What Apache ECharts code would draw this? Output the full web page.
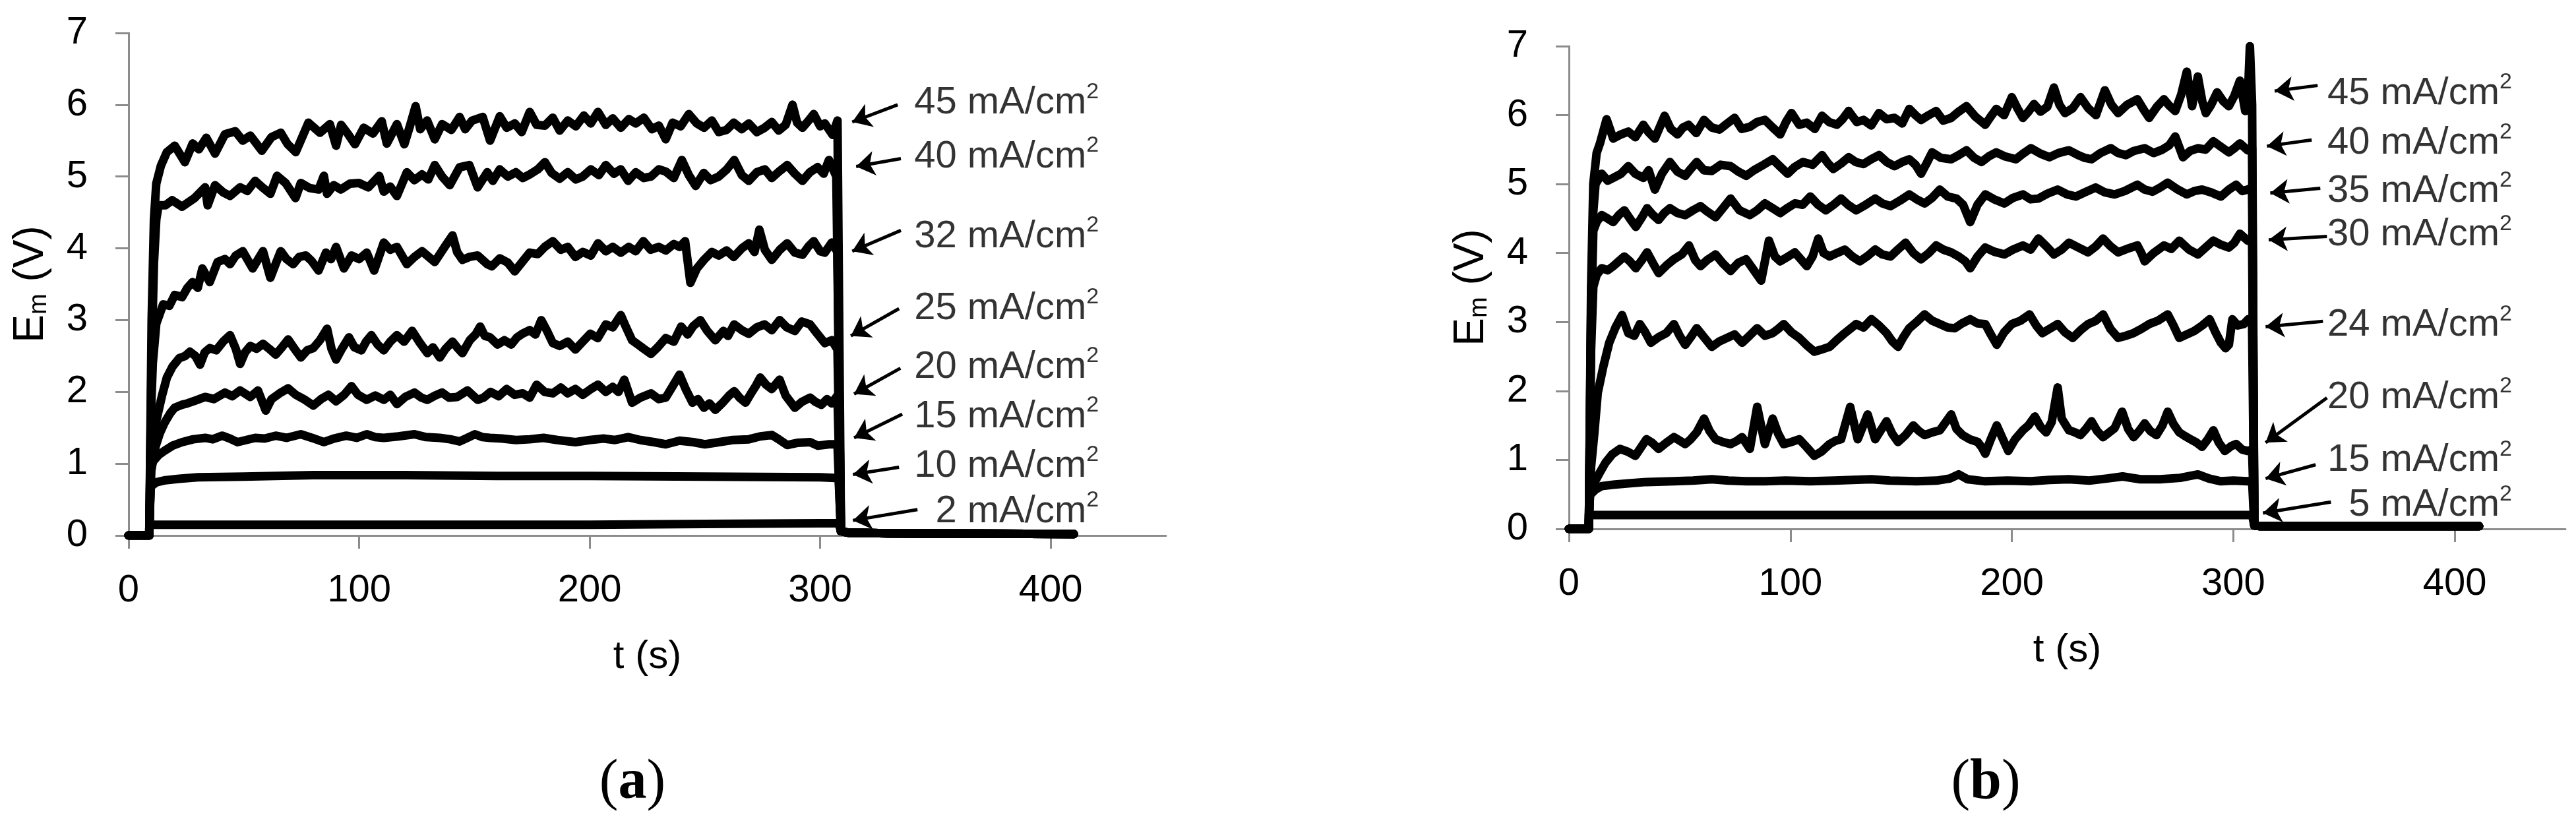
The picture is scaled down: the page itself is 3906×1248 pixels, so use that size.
<!DOCTYPE html>
<html>
<head>
<meta charset="UTF-8">
<title>Em vs t</title>
<script src="https://cdn.jsdelivr.net/npm/echarts@6/dist/echarts.min.js"></script>
<style>
html, body { margin: 0; padding: 0; background: #fff; }
#chart { width: 3906px; height: 1248px; }
</style>
</head>
<body>
<div id="chart"></div>
<script>
// all values as [t (s), Em (V)]
// panel (a)
var offA = [[0, 0], [9, 0]];
var tailA = [[309, 0.06], [312, 0.04], [330, 0.03], [410, 0.02]];
var a45 = [[9,0.1],[10,3.0],[11,4.4],[12,4.9],[14,5.15],[16.6,5.34],[20,5.43],[24.4,5.2],[27.8,5.46],[30.5,5.38],[33.7,5.54],[37.5,5.32],[41.8,5.59],[46.3,5.63],[49.5,5.5],[52.8,5.57],[57.8,5.36],[62,5.55],[66,5.61],[69,5.45],[72.5,5.34],[78,5.75],[83,5.61],[87.3,5.73],[90,5.43],[92.2,5.72],[95,5.6],[98.2,5.45],[102,5.68],[106,5.6],[109.8,5.77],[112,5.46],[116.4,5.73],[119.6,5.45],[122,5.7],[124.5,5.98],[126.5,5.66],[129.5,5.78],[132.8,5.52],[136,5.73],[140,5.65],[143.6,5.83],[146,5.66],[149,5.78],[153.6,5.83],[156.8,5.5],[161,5.84],[164,5.68],[167.5,5.74],[170.5,5.62],[174,5.9],[177,5.72],[180.6,5.71],[184,5.82],[187,5.64],[190.5,5.78],[194,5.7],[197.5,5.85],[200.5,5.74],[203.6,5.9],[207,5.72],[210,5.81],[213.5,5.68],[217,5.8],[220,5.74],[223.5,5.82],[227,5.66],[230,5.71],[233,5.52],[236,5.75],[239.5,5.7],[243,5.87],[246.5,5.74],[249.6,5.68],[253,5.78],[256,5.62],[259.4,5.65],[262.5,5.75],[266,5.66],[269,5.74],[272.5,5.62],[275.9,5.68],[279,5.76],[282,5.64],[285,5.72],[288,6.0],[290,5.75],[292.3,5.68],[295,5.78],[297.2,5.87],[300,5.7],[302,5.74],[305.4,5.58],[307.5,5.78]];
var a40 = [[9,0.1],[10,2.5],[11,3.8],[12,4.4],[13,4.6],[16,4.6],[18.9,4.67],[23.2,4.58],[28.6,4.7],[33.2,4.85],[34.3,4.6],[37.5,4.88],[41,4.78],[44,4.73],[48.4,4.85],[51.5,4.8],[54.9,4.94],[58,4.85],[61.5,4.76],[64.4,5.01],[68.1,4.91],[72.4,4.7],[74.7,4.91],[78.5,4.84],[82.4,4.82],[84.7,5.01],[86.1,4.76],[89,4.88],[92.1,4.82],[96,4.9],[99.9,4.91],[104,4.85],[108.7,5.01],[110.7,4.79],[113.5,4.86],[116.4,4.73],[120.7,5.06],[124,4.95],[127.3,5.03],[130,4.96],[132.8,5.16],[136,5.0],[139.3,4.88],[143.6,5.13],[147.8,5.16],[151.4,4.85],[155.6,5.06],[158,4.94],[161,5.1],[164.5,5.0],[168,5.06],[171,4.98],[174,5.03],[177.5,5.1],[180.6,5.2],[183.5,5.05],[187,4.97],[190.5,5.06],[194,4.96],[197,5.0],[200.5,5.1],[204,5.02],[207,5.16],[210.5,5.04],[213.5,5.1],[216.7,4.94],[220,5.06],[223.5,4.98],[226.6,5.0],[230,5.1],[233,5.07],[236.5,4.98],[240,5.23],[243,5.02],[246,4.87],[249.5,5.05],[252.5,4.95],[256,5.0],[259.5,5.1],[262.7,5.23],[266,5.02],[269,4.94],[272.5,5.06],[276,5.1],[279,4.98],[282.5,5.08],[285.7,5.16],[289,5.04],[292.3,4.94],[295.5,5.06],[298.9,5.13],[301.5,5.04],[303.8,5.23],[307,5.0]];
var a32 = [[9,0.1],[9.8,1.8],[10.5,2.4],[12,2.95],[15,3.22],[17.7,3.2],[20,3.35],[23.2,3.32],[25.5,3.45],[27.7,3.53],[30,3.45],[32,3.72],[35.2,3.53],[38.6,3.81],[41.8,3.85],[44,3.78],[46.5,3.9],[49.5,3.96],[53.8,3.72],[58.3,3.96],[61.5,3.59],[64,3.8],[66,3.96],[68.5,3.85],[71.4,3.78],[74,3.88],[76.9,3.9],[79.5,3.82],[82.4,3.69],[85.6,3.94],[87.8,3.85],[90,4.02],[93.4,3.72],[96.7,3.9],[100,3.85],[103.3,3.94],[106.5,3.69],[110.7,4.08],[113.5,3.98],[116.4,4.02],[120.7,3.78],[124,3.88],[127.3,3.96],[132.8,3.81],[137.1,4.02],[140.5,4.18],[142.5,3.95],[144.8,3.84],[147.8,3.88],[151.4,3.9],[155.6,3.78],[157.6,3.75],[161,3.86],[164.5,3.8],[167.5,3.68],[171,3.82],[174,3.94],[177.5,3.92],[180.5,4.02],[184,4.1],[187.5,3.98],[190.5,4.02],[193.8,3.88],[197,3.95],[200.5,3.9],[203.6,4.07],[207,3.96],[210,4.02],[213.5,3.94],[217,4.02],[220,3.96],[223.3,4.1],[226.5,3.98],[230,4.02],[233,3.97],[236.5,4.06],[239,4.02],[241.4,4.1],[243.7,3.52],[246.5,3.72],[249.6,3.84],[253,3.95],[256,3.9],[259.4,3.97],[262.5,3.88],[266,4.0],[269,4.07],[271.5,3.95],[273.6,4.26],[276,3.98],[279,3.84],[282.5,3.98],[285.7,4.07],[289,3.94],[292.3,3.91],[295,4.03],[297.2,4.1],[300,3.96],[302,3.94],[305,4.08],[307.5,3.95]];
var a25 = [[9,0.1],[9.8,1.0],[10.8,1.4],[12.3,1.64],[14.5,1.95],[16.6,2.2],[19,2.35],[22,2.47],[24.5,2.5],[26.6,2.56],[29,2.5],[31,2.38],[33,2.55],[35.2,2.61],[38,2.58],[41,2.7],[44,2.79],[46.5,2.6],[48.4,2.39],[50.5,2.55],[52.8,2.64],[55.5,2.6],[58.3,2.67],[61,2.6],[63.8,2.52],[66.5,2.62],[69.2,2.73],[72,2.6],[74.7,2.48],[77.5,2.58],[80.1,2.61],[83,2.72],[86.1,2.88],[88,2.6],[90,2.45],[92.5,2.6],[95.6,2.76],[98,2.62],[101,2.58],[103,2.7],[105.3,2.79],[108,2.66],[110.7,2.58],[113.5,2.7],[116.4,2.79],[119.5,2.7],[123,2.85],[126,2.7],[129.6,2.54],[132,2.62],[135,2.48],[137.5,2.6],[140.5,2.7],[142.5,2.62],[144.8,2.54],[148,2.72],[150.5,2.8],[152.5,2.91],[154.5,2.78],[156.8,2.76],[160,2.66],[163,2.72],[166,2.66],[168.5,2.76],[170.8,2.81],[174,2.86],[176.5,2.8],[179,3.0],[181.5,2.85],[184,2.68],[187,2.64],[190.5,2.7],[193.8,2.59],[197,2.7],[200.3,2.81],[203.5,2.75],[207,2.94],[210,2.9],[213.5,3.07],[215.8,2.9],[218.4,2.72],[221,2.66],[223.5,2.6],[226.6,2.53],[229.5,2.62],[233,2.75],[236.5,2.7],[239.7,2.91],[242.5,2.8],[245,2.92],[248,3.0],[251,2.85],[254.5,2.72],[258,2.85],[260,2.78],[262.7,2.94],[266,2.86],[269,2.81],[272.5,2.9],[275.9,2.94],[279,2.86],[282.4,3.0],[285.5,2.9],[289,2.85],[292,2.98],[295.6,2.94],[298.5,2.82],[302,2.68],[305,2.72],[307.5,2.59]];
var a20 = [[9,0.1],[9.8,0.9],[11.7,1.24],[13.5,1.42],[15.6,1.57],[18,1.7],[20,1.78],[23,1.82],[25.5,1.84],[29,1.88],[33.2,1.93],[37,1.9],[41.8,1.99],[45,1.94],[48.4,2.02],[52.8,1.93],[56.1,2.02],[59.5,1.74],[62,1.9],[65.5,1.98],[69.2,2.05],[72.5,1.96],[76,1.9],[80.1,1.81],[83.5,1.9],[86.7,1.96],[90,1.87],[93.5,1.96],[96.7,2.08],[99.5,1.96],[103.3,1.89],[107,1.95],[110.7,1.89],[113.5,1.96],[116.4,1.83],[120,1.93],[124,1.99],[127,1.92],[129.6,1.89],[133,1.95],[136,1.99],[139,1.92],[142.5,1.93],[147,2.02],[151.4,1.89],[154,1.92],[157,2.0],[160.5,1.94],[164,2.04],[167.5,1.96],[171,1.98],[174,1.92],[177,2.1],[180.5,2.0],[184,1.98],[187.5,2.06],[190.5,1.98],[193.8,2.04],[197,1.96],[200.5,2.04],[203.6,2.1],[207,2.0],[210,2.07],[212.5,2.0],[215,2.17],[218.4,1.85],[222,1.92],[226.6,1.98],[230,1.9],[233,1.92],[236,2.08],[239,2.24],[241.5,2.05],[244.6,1.85],[247,1.9],[249.6,1.78],[252,1.84],[254.5,1.75],[258,1.86],[260.5,1.95],[262.7,2.01],[265,1.92],[267.6,1.85],[270,1.98],[272,2.08],[274,2.2],[276.5,2.1],[279,2.04],[282.4,2.17],[285,1.95],[289,1.78],[292,1.86],[295.6,1.92],[298,1.86],[300.5,1.82],[303,1.9],[305,1.84],[307.5,1.95]];
var a15 = [[9,0.1],[9.6,0.95],[10.6,1.03],[13,1.12],[15.6,1.18],[19,1.25],[23.2,1.3],[28,1.34],[33.2,1.36],[36.5,1.34],[40.6,1.39],[44,1.35],[47.2,1.3],[51,1.33],[54.9,1.36],[59,1.35],[63.8,1.39],[68.5,1.36],[74.7,1.41],[79.5,1.36],[84.7,1.3],[89,1.35],[94.4,1.39],[99,1.36],[103.3,1.41],[107,1.37],[110.7,1.36],[117,1.38],[124,1.41],[129,1.37],[135,1.36],[139.5,1.34],[143.6,1.31],[147,1.36],[150.2,1.41],[153.5,1.37],[156.8,1.36],[162,1.35],[168,1.33],[174,1.34],[180,1.36],[186,1.33],[193.8,1.3],[200,1.33],[206,1.35],[211,1.33],[216.7,1.37],[222,1.33],[228,1.3],[233,1.27],[239,1.32],[245,1.3],[250,1.27],[256,1.3],[262,1.33],[269,1.34],[274,1.38],[279,1.4],[282,1.34],[285.7,1.26],[290,1.29],[295.6,1.3],[299,1.25],[303.8,1.27],[307.5,1.27]];
var a10 = [[9,0.1],[9.5,0.68],[12,0.74],[16,0.77],[22,0.79],[30,0.81],[50,0.82],[80,0.84],[120,0.84],[160,0.83],[200,0.83],[250,0.82],[300,0.81],[308,0.8]];
var a2 = [[9,0.15],[100,0.15],[200,0.15],[250,0.16],[300,0.17],[308,0.17]];
var currentsA = ['45', '40', '32', '25', '20', '15', '10', '2'];

// panel (b)
var offB = [[0, 0], [9, 0]];
var tailB = [[309.5, 0.05], [312, 0.04], [411, 0.04]];
var b45 = [[9,0.1],[10,3.5],[11,5.0],[12.5,5.45],[14,5.59],[17,5.94],[20,5.66],[23.5,5.72],[26.8,5.76],[30,5.68],[33.6,5.86],[36,5.75],[38.8,5.66],[43.2,5.99],[46,5.8],[49,5.72],[51.5,5.82],[54,5.86],[57.5,5.74],[61,5.93],[64.5,5.82],[68,5.79],[71.5,5.88],[74.8,5.96],[78,5.8],[81.7,5.83],[85,5.9],[88.5,5.93],[92,5.82],[95.4,5.72],[98,5.9],[100.5,6.03],[104,5.86],[107.4,5.89],[111,5.8],[114.3,5.99],[117.5,5.9],[121,5.86],[123.5,5.94],[126.3,6.06],[130,5.9],[133,5.93],[136.5,5.85],[140,6.03],[143.5,5.94],[147,5.96],[150.5,5.88],[153.7,6.09],[156.5,6.0],[159,5.93],[162.5,6.0],[165.8,6.06],[169,5.92],[172.6,5.96],[176,6.05],[179.5,6.13],[183.5,5.98],[188,5.86],[190.5,5.98],[193,6.09],[196.5,6.0],[200,6.26],[202.5,6.1],[205,5.96],[207.5,6.05],[210,6.16],[213,6.05],[216,6.12],[219,6.4],[221.5,6.15],[224,6.03],[227.5,6.1],[231,6.26],[234.5,6.1],[238,6.0],[242,6.36],[245,6.15],[248,6.03],[252,6.15],[256.7,6.23],[259.5,6.08],[262,5.96],[265.5,6.12],[268.7,6.23],[271,6.14],[273.8,6.06],[276.5,6.3],[279,6.63],[281.4,6.13],[284,6.56],[286,6.2],[287.6,6.03],[290,6.15],[292.7,6.33],[295.5,6.2],[298,6.13],[300.5,6.28],[303,6.5],[305.4,6.06],[306.5,6.2],[307.5,7.0],[308.5,6.15]];
var b40 = [[9,0.1],[10,3.2],[11,4.6],[12,5.0],[14.8,5.15],[17.5,5.05],[20,5.09],[23.5,5.15],[26.8,5.26],[30,5.15],[33.6,5.09],[36,5.2],[38.8,4.92],[42,5.15],[45.6,5.32],[49,5.18],[52.5,5.12],[55,5.22],[57.7,5.32],[61,5.2],[64.5,5.19],[68.5,5.28],[73,5.26],[76.5,5.18],[80,5.12],[83.5,5.2],[86.8,5.26],[92,5.36],[95.5,5.25],[98.8,5.15],[102,5.25],[105.7,5.32],[110,5.28],[114.3,5.42],[117,5.3],[119.4,5.22],[123,5.3],[126.3,5.39],[129.5,5.32],[133,5.29],[136.5,5.36],[140,5.42],[143.5,5.32],[147,5.26],[150.5,5.32],[153.7,5.36],[156.5,5.28],[159,5.15],[161.5,5.3],[164,5.46],[168,5.38],[172.6,5.36],[176,5.42],[179.5,5.49],[183,5.38],[186.3,5.32],[189.5,5.4],[193,5.46],[197,5.4],[201.8,5.36],[205,5.44],[208.6,5.52],[213,5.44],[217,5.39],[221,5.45],[225.8,5.49],[230,5.42],[233,5.38],[236,5.36],[240,5.45],[244.7,5.52],[248,5.45],[251.5,5.42],[255,5.48],[260,5.52],[264,5.45],[268,5.5],[271,5.56],[273.8,5.69],[277.3,5.39],[280.5,5.48],[284,5.52],[287.5,5.5],[291,5.62],[294.5,5.54],[298,5.46],[300.5,5.52],[303,5.59],[306.5,5.49],[308.5,5.52]];
var b35 = [[9,0.1],[10,3.0],[11,4.32],[12.5,4.45],[14.8,4.55],[17.5,4.5],[20,4.45],[22.5,4.55],[25,4.62],[27.5,4.5],[30.2,4.38],[33,4.52],[35.3,4.65],[38,4.55],[40.5,4.48],[43,4.58],[45.6,4.65],[49,4.58],[52.5,4.55],[56,4.62],[59.4,4.68],[62.5,4.6],[66.2,4.52],[69.5,4.65],[73,4.79],[77,4.62],[81.7,4.55],[85,4.62],[88.5,4.72],[92,4.65],[95.4,4.58],[99,4.66],[102,4.72],[105.5,4.7],[109,4.82],[112.5,4.7],[116,4.62],[119.5,4.7],[122.9,4.79],[126,4.7],[129.7,4.62],[134,4.7],[138.3,4.79],[141.5,4.72],[145.2,4.68],[149.5,4.76],[153.7,4.85],[157,4.78],[160.6,4.72],[164,4.8],[167.5,4.92],[171,4.82],[175,4.79],[178,4.7],[181.2,4.45],[184.5,4.7],[188,4.85],[192,4.78],[196.6,4.72],[200.5,4.8],[205,4.85],[208.5,4.78],[212,4.79],[216,4.86],[220.7,4.92],[225,4.85],[229,4.82],[233,4.88],[237.8,4.95],[242,4.88],[246.4,4.85],[251,4.9],[256.7,4.99],[260,4.92],[263.6,4.89],[267,4.95],[270.4,5.02],[275,4.92],[279,4.85],[282.5,4.9],[285.9,4.92],[290,4.88],[294.4,4.82],[298,4.92],[301.3,4.99],[304,4.9],[306.5,4.92],[308.5,4.95]];
var b30 = [[9,0.1],[10,2.6],[11,3.51],[12.5,3.68],[14.8,3.78],[17.5,3.75],[20,3.81],[22.5,3.88],[25,3.95],[27.5,3.88],[30.2,3.78],[33,3.9],[35.3,4.01],[38,3.85],[40.5,3.71],[44,3.82],[47.4,3.91],[51,3.98],[54.2,4.11],[57,3.9],[59.4,3.81],[62.5,3.9],[66.2,3.98],[69.5,3.85],[73,3.74],[76.5,3.86],[80,3.91],[83.5,3.75],[86.8,3.6],[90.3,4.18],[93,3.95],[95.4,3.88],[99,3.95],[102,4.01],[105,3.9],[107.4,3.81],[110,3.95],[112.6,4.21],[115,4.0],[117.7,3.95],[121,4.0],[124.6,4.05],[128,3.95],[131.4,3.88],[135,3.96],[138.3,4.05],[141.5,3.98],[145.2,3.95],[148.5,4.05],[152,4.15],[155.5,4.0],[159,3.91],[162.5,4.0],[165.8,4.11],[169,4.05],[172.6,4.01],[176,3.95],[179,3.88],[181.2,3.78],[184.5,3.95],[188,4.08],[192,4.02],[196.6,3.98],[200.5,4.05],[205,4.11],[208.5,4.05],[212,4.21],[215.5,4.1],[219,3.98],[222.5,4.05],[225.8,4.15],[230,4.08],[234.4,4.01],[238,4.1],[241.2,4.21],[244.5,4.1],[248,4.01],[252,4.06],[256.7,4.11],[258.5,4.0],[260,3.88],[264,4.0],[268.7,4.11],[272,4.06],[275.6,4.18],[280,4.05],[284,3.98],[287.5,4.08],[291,4.18],[294.5,4.12],[298,4.08],[300.5,4.15],[303,4.28],[306.5,4.18],[308.5,4.2]];
var b24 = [[9,0.1],[10,0.9],[11.5,1.4],[13,1.97],[15.5,2.35],[18.2,2.7],[21,2.92],[24,3.1],[26.8,2.84],[29.5,2.8],[32,2.97],[34.5,2.85],[37,2.7],[40.5,2.78],[44,2.84],[47.4,2.97],[50,2.8],[52.5,2.67],[55,2.78],[57.7,2.91],[61,2.78],[64.5,2.64],[68,2.72],[71.4,2.77],[74.8,2.82],[78.2,2.7],[81.5,2.8],[85,2.91],[88.5,2.8],[92,2.84],[94.5,2.9],[97,2.97],[100.5,2.85],[104,2.77],[107.5,2.66],[110.8,2.57],[114,2.6],[117.7,2.64],[121,2.74],[124.6,2.84],[127,2.9],[129.7,2.97],[133,2.92],[136.6,3.04],[140,2.95],[143.4,2.84],[146,2.72],[148.6,2.64],[151,2.78],[153.7,2.91],[157,3.0],[160.6,3.11],[164,3.02],[167.5,2.97],[171,2.92],[174.3,2.91],[177.5,2.98],[181.2,3.04],[184.5,2.98],[188,2.97],[190.5,2.82],[193.2,2.67],[196.5,2.85],[200,2.97],[204,3.02],[208,3.11],[211,2.95],[213.8,2.84],[217,2.9],[220.7,2.97],[224,2.85],[227.5,2.77],[231,2.88],[234.4,2.97],[238,3.02],[241.2,3.11],[244.5,2.9],[248,2.77],[251.5,2.8],[255,2.84],[258.5,2.9],[262,2.97],[266,3.02],[270.4,3.11],[273,2.95],[275.6,2.77],[279,2.82],[282.4,2.87],[286,2.95],[289.3,3.04],[292,2.85],[294.4,2.7],[296.5,2.62],[298,2.67],[299.6,3.04],[302,2.95],[304.7,2.97],[306.8,3.04],[308.5,2.95]];
var b20 = [[9,0.1],[9.5,0.55],[12,0.7],[14,0.82],[16.5,0.96],[19.5,1.08],[23,1.16],[26.5,1.12],[30,1.06],[32.5,1.18],[35,1.3],[37.5,1.25],[40.5,1.16],[44,1.25],[47.4,1.33],[50,1.28],[52.5,1.23],[55,1.3],[57.7,1.4],[61,1.6],[63.5,1.42],[66.2,1.3],[69.5,1.26],[73,1.23],[76,1.28],[78.2,1.33],[81.7,1.16],[85,1.77],[88.5,1.23],[92,1.6],[94.5,1.38],[97,1.23],[100.5,1.26],[104,1.3],[107.5,1.18],[110.8,1.06],[114,1.12],[117.7,1.23],[120.5,1.28],[122.9,1.3],[127,1.77],[130.4,1.3],[134.9,1.66],[138.3,1.3],[143.4,1.56],[146,1.38],[148.6,1.26],[152,1.36],[155.5,1.5],[158,1.42],[160.6,1.36],[164,1.4],[167.5,1.43],[172.6,1.66],[175,1.45],[177.8,1.36],[181,1.3],[184.6,1.26],[186.5,1.18],[188,1.09],[190.5,1.3],[193.2,1.5],[196,1.3],[198.4,1.13],[201.5,1.3],[205,1.43],[207.5,1.5],[210.4,1.63],[213,1.48],[215.5,1.4],[218,1.55],[220.7,2.05],[222.5,1.6],[225.8,1.43],[228.5,1.4],[231,1.36],[233.5,1.45],[236,1.56],[238.5,1.42],[241.2,1.33],[244,1.4],[246.4,1.46],[249.8,1.7],[252.5,1.45],[255,1.33],[257.5,1.42],[260,1.53],[262.5,1.42],[265.3,1.36],[268,1.5],[270.4,1.7],[273,1.52],[275.6,1.4],[278,1.35],[280.7,1.3],[283.5,1.25],[285.9,1.19],[288.5,1.3],[291,1.43],[293.5,1.25],[296.2,1.13],[299,1.2],[301.3,1.23],[304,1.15],[306.5,1.13],[308.5,1.15]];
var b15 = [[9,0.1],[9.5,0.49],[12,0.57],[14.8,0.62],[20,0.64],[26.8,0.66],[35,0.68],[47.4,0.69],[56,0.7],[64.5,0.72],[72,0.7],[80,0.69],[88.5,0.69],[98,0.7],[109,0.69],[120,0.7],[128,0.71],[136.6,0.72],[145,0.7],[157,0.69],[166,0.7],[172,0.73],[176,0.79],[180,0.72],[188,0.69],[198,0.7],[208.6,0.69],[217,0.71],[225.8,0.72],[235,0.7],[243,0.73],[250,0.76],[258,0.72],[267,0.72],[276,0.74],[284,0.79],[289,0.73],[294.4,0.69],[300,0.7],[306.5,0.69],[308.5,0.7]];
var b5 = [[9,0.2],[100,0.2],[200,0.2],[300,0.2],[308.5,0.2]];
var currentsB = ['45', '40', '35', '30', '24', '20', '15', '5'];

// annotation placement (data coords): arrow tail -> tip, label right edge / middle
var arrowsA = [[[333.6,6.0],[313.9,5.76]],[[335,5.25],[315.6,5.14]],[[335,4.25],[313.9,3.96]],[[334.2,3.16],[313.3,2.78]],[[334.8,2.33],[314.7,1.97]],[[335.6,1.69],[314.7,1.36]],[[334.2,0.95],[314.2,0.85]],[[342.2,0.36],[314.2,0.21]]];
var labelAtA = [[421,6.07],[421,5.32],[421,4.21],[421,3.21],[421,2.39],[421,1.7],[421,1.01],[421,0.38]];
var arrowsB = [[[338.1,6.43],[318.7,6.35]],[[335.4,5.64],[315.2,5.55]],[[339.3,4.94],[316.7,4.87]],[[342.3,4.24],[316,4.19]],[[340.5,3.01],[314.6,2.93]],[[342.3,1.9],[314.6,1.25]],[[337.2,0.93],[314.6,0.73]],[[344.1,0.39],[313.4,0.23]]];
var labelAtB = [[426,6.36],[426,5.64],[426,4.94],[426,4.31],[426,3.0],[426,1.95],[426,1.04],[426,0.39]];

var FONT = '"Liberation Sans", Arial, sans-serif';
var SERIF = '"Liberation Serif", "Times New Roman", serif';
var AXIS_GRAY = '#8c8c8c';

var myChart = echarts.init(document.getElementById('chart'), null, {renderer: 'canvas'});

function curveSeries(list, off, tail, gi) {
	return list.map(function (c) {
		return {
			type: 'line',
			xAxisIndex: gi,
			yAxisIndex: gi,
			data: off.concat(c, tail),
			showSymbol: false,
			symbol: 'none',
			silent: true,
			lineStyle: {color: '#000', width: 13, join: 'round', cap: 'round'},
			z: 3
		};
	});
}

function arrowSeries(arrows, gi) {
	return {
		type: 'lines',
		coordinateSystem: 'cartesian2d',
		xAxisIndex: gi,
		yAxisIndex: gi,
		symbol: ['none', 'arrow'],
		symbolSize: [0, 28],
		silent: true,
		lineStyle: {color: '#000', width: 5, opacity: 1, curveness: 0},
		data: arrows.map(function (a) { return {coords: a}; }),
		z: 4
	};
}

function labelSeries(pos, currents, gi) {
	return {
		type: 'scatter',
		xAxisIndex: gi,
		yAxisIndex: gi,
		symbolSize: 1,
		silent: true,
		itemStyle: {color: 'rgba(0,0,0,0)'},
		data: pos.map(function (p, i) { return {value: p, name: currents[i]}; }),
		label: {
			show: true,
			position: 'left',
			distance: 0,
			formatter: function (p) { return '{n|' + p.name + ' mA/cm}{s|2}'; },
			rich: {
				n: {fontFamily: FONT, fontSize: 58, lineHeight: 58, color: '#000', padding: [10, 0, 0, 0]},
				s: {fontFamily: FONT, fontSize: 34, lineHeight: 34, color: '#000', verticalAlign: 'top'}
			}
		},
		z: 5
	};
}

function xAxisFor(gi) {
	return {
		type: 'value',
		gridIndex: gi,
		min: 0,
		max: 450,
		interval: 100,
		name: 't (s)',
		nameLocation: 'middle',
		nameGap: 154,
		nameTextStyle: {fontFamily: FONT, fontSize: 60, color: '#000'},
		axisLine: {show: true, onZero: false, lineStyle: {color: AXIS_GRAY, width: 3}},
		axisTick: {show: true, inside: false, length: 20, lineStyle: {color: AXIS_GRAY, width: 3}, customValues: [0, 100, 200, 300, 400]},
		axisLabel: {fontFamily: FONT, fontSize: 58, color: '#000', margin: 55, customValues: [0, 100, 200, 300, 400]},
		splitLine: {show: false}
	};
}

function yAxisFor(gi) {
	return {
		type: 'value',
		gridIndex: gi,
		min: 0,
		max: 7,
		interval: 1,
		name: '{e|E}{m|m}{e| (V)}',
		nameLocation: 'middle',
		nameRotate: 90,
		nameGap: 116,
		nameTextStyle: {
			fontFamily: FONT, fontSize: 64, color: '#000',
			rich: {
				e: {fontFamily: FONT, fontSize: 64, color: '#000'},
				m: {fontFamily: FONT, fontSize: 38, color: '#000', verticalAlign: 'bottom'}
			}
		},
		axisLine: {show: true, lineStyle: {color: AXIS_GRAY, width: 3}},
		axisTick: {show: true, inside: false, length: 20, lineStyle: {color: AXIS_GRAY, width: 3}},
		axisLabel: {fontFamily: FONT, fontSize: 58, color: '#000', margin: 62},
		splitLine: {show: false}
	};
}

var capRich = {
	p: {fontFamily: SERIF, fontSize: 86, fontWeight: 'normal', color: '#000'},
	b: {fontFamily: SERIF, fontSize: 86, fontWeight: 'bold', color: '#000'}
};

var option = {
	animation: false,
	backgroundColor: '#fff',
	title: [
		{text: '{p|(}{b|a}{p|)}', left: 954, top: 1140, textAlign: 'center', textStyle: {fontWeight: 'normal', rich: capRich}},
		{text: '{p|(}{b|b}{p|)}', left: 3006, top: 1140, textAlign: 'center', textStyle: {fontWeight: 'normal', rich: capRich}}
	],
	grid: [
		{left: 195, top: 50, width: 1573, height: 762, containLabel: false, outerBoundsMode: 'none'},
		{left: 2379, top: 70, width: 1511, height: 732, containLabel: false, outerBoundsMode: 'none'}
	],
	xAxis: [xAxisFor(0), xAxisFor(1)],
	yAxis: [yAxisFor(0), yAxisFor(1)],
	series: []
		.concat(curveSeries([a45, a40, a32, a25, a20, a15, a10, a2], offA, tailA, 0))
		.concat(curveSeries([b45, b40, b35, b30, b24, b20, b15, b5], offB, tailB, 1))
		.concat([arrowSeries(arrowsA, 0), arrowSeries(arrowsB, 1)])
		.concat([labelSeries(labelAtA, currentsA, 0), labelSeries(labelAtB, currentsB, 1)])
};
myChart.setOption(option);
</script>
</body>
</html>
